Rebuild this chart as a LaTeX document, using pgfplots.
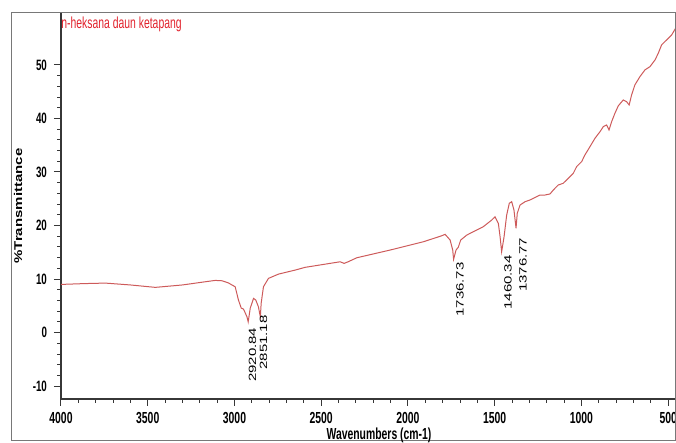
\documentclass[border=0pt]{standalone}
\usepackage{fontspec}
\setmainfont{Liberation Sans}
\newfontfamily\cond[FakeStretch=0.65]{Liberation Sans}
\usepackage{graphicx}
\usepackage{pgfplots}
\pgfplotsset{compat=1.18}

\definecolor{specred}{RGB}{205,90,90}
\definecolor{titlered}{RGB}{225,35,45}
\definecolor{axgray}{RGB}{55,55,55}
\definecolor{framegray}{RGB}{120,120,120}

\begin{document}
\begin{tikzpicture}

\begin{axis}[
	width=307.5pt,
	height=193pt,
	scale only axis,
	at={(30.5pt,22pt)},
	anchor=south west,
	x dir=reverse,
	xmin=455,
	xmax=4000,
	ymin=-12.4,
	ymax=59.7,
	axis x line*=bottom,
	axis y line*=left,
	axis line style={axgray,line width=0.6pt},
	xtick={500,1000,1500,2000,2500,3000,3500,4000},
	xticklabels={500,1000,1500,2000,2500,3000,3500,4000},
	ytick={-10,0,10,20,30,40,50},
	yticklabels={-10,0,10,20,30,40,50},
	minor x tick num=4,
	minor y tick num=4,
	tick align=outside,
	major tick length=3.5pt,
	minor tick length=1.8pt,
	tick style={axgray,line width=0.5pt},
	xticklabel style={font=\cond\bfseries\fontsize{8}{9}\selectfont,yshift=0.5pt},
	yticklabel style={font=\cond\bfseries\fontsize{7.5}{8}\selectfont},
	clip=false
	]
\addplot[color=specred,line width=0.5pt]
table[row sep=crcr]{
4000 9.0\\
3870 9.15\\
3745 9.25\\
3600 8.9\\
3456 8.45\\
3300 8.9\\
3168 9.5\\
3111 9.75\\
3071 9.68\\
3036 9.3\\
2996 8.56\\
2977 6.07\\
2961 4.58\\
2948 4.39\\
2928 2.95\\
2921 2.0\\
2909 4.58\\
2890 6.39\\
2877 6.07\\
2862 4.82\\
2851 2.95\\
2846 5.51\\
2833 8.56\\
2804 10.13\\
2746 10.93\\
2650 11.68\\
2593 12.19\\
2391 13.23\\
2368 12.93\\
2345 13.23\\
2295 13.98\\
2103 15.42\\
1911 16.97\\
1805 18.09\\
1786 18.36\\
1757 17.29\\
1742 15.42\\
1737 13.68\\
1723 15.42\\
1710 15.93\\
1696 17.29\\
1661 18.22\\
1604 19.16\\
1566 19.78\\
1517 21.03\\
1498 21.64\\
1479 20.41\\
1469 17.91\\
1460 15.1\\
1446 17.91\\
1431 21.96\\
1416 24.15\\
1402 24.45\\
1389 22.9\\
1377 19.5\\
1370 22.28\\
1354 23.83\\
1325 24.45\\
1297 24.77\\
1278 25.08\\
1239 25.7\\
1210 25.7\\
1181 25.9\\
1162 26.64\\
1134 27.57\\
1105 27.89\\
1076 28.82\\
1047 29.76\\
1028 30.99\\
999 31.93\\
980 33.18\\
951 34.73\\
922 36.3\\
893 37.53\\
874 38.47\\
855 38.79\\
841 37.85\\
826 39.4\\
807 40.97\\
788 42.34\\
759 43.46\\
740 43.14\\
725 42.52\\
711 44.39\\
692 46.26\\
663 47.81\\
634 49.07\\
605 49.68\\
576 50.93\\
557 52.19\\
538 53.74\\
509 54.67\\
480 55.61\\
456 56.92\\
};

% peak labels, glyphs squeezed across the text like the scan
\begin{scope}[every node/.style={rotate=90,anchor=east,inner sep=0pt,font=\fontsize{7.5}{8}\selectfont}]
\node at (axis cs:2896,1.0) {\scalebox{1}[0.7]{2920.84}};
\node at (axis cs:2832,3.3) {\scalebox{1}[0.7]{2851.18}};
\node at (axis cs:1700,13.2) {\scalebox{1}[0.7]{1736.73}};
\node at (axis cs:1423,14.5) {\scalebox{1}[0.7]{1460.34}};
\node at (axis cs:1337,17.8) {\scalebox{1}[0.7]{1376.77}};
\end{scope}
\end{axis}

% frame, title, labels
\draw[framegray,line width=0.5pt] (5.5pt,1pt) rectangle (337.8pt,215.25pt);
\node[anchor=west,inner sep=0pt,text=titlered,font=\cond\fontsize{8}{9}\selectfont] at (30.5pt,209.5pt) {n-heksana daun ketapang};
\node[rotate=90,inner sep=0pt,font=\bfseries\fontsize{7.5}{8}\selectfont] at (9pt,118.5pt) {\scalebox{1}[0.75]{\%Transmittance}};
\node[inner sep=0pt,font=\cond\bfseries\fontsize{8}{9}\selectfont] at (189.5pt,3.8pt) {Wavenumbers (cm-1)};

\pgfresetboundingbox
\path (0pt,0pt) rectangle (338pt,221.5pt);
\end{tikzpicture}
\end{document}
